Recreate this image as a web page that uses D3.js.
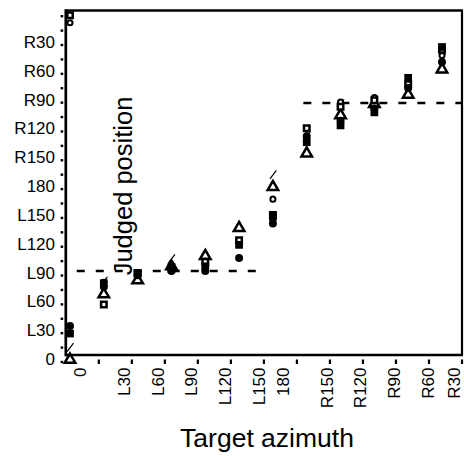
<!DOCTYPE html>
<html>
<head>
<meta charset="utf-8">
<script src="https://cdn.jsdelivr.net/npm/d3@7"></script>
<style>
  html, body { margin: 0; padding: 0; background: #fff; }
  svg { display: block; }
  text { font-family: "Liberation Sans", Arial, Helvetica, sans-serif; fill: #000; }
</style>
</head>
<body>
<svg id="chart" width="464" height="456"></svg>
<script>
// Target azimuths (degrees, counter-clockwise from straight ahead)
const targets = [0, 30, 60, 90, 120, 150, 180, 210, 240, 270, 300, 330];
const targetLabels = ["0", "L30", "L60", "L90", "L120", "L150", "180", "R150", "R120", "R90", "R60", "R30"];

// Judged-position axis
const judgedValues = [0, 30, 60, 90, 120, 150, 180, 210, 240, 270, 300, 330];
const judgedLabels = ["0", "L30", "L60", "L90", "L120", "L150", "180", "R150", "R120", "R90", "R60", "R30"];
const judgedMinorStep = 15;

// Judged position (degrees) for each target, one array per condition
const filledSquare   = [23, 77, 88, 92, 95, 118, 148, 228, 246, 260, 297, 330];
const openSquare     = [364, 54, 87, 94, 100, 123, 150, 243, 266, 273, 290, 327];
const filledCircle   = [31, 73, 86, 90, 90, 104, 141, 234, 251, 264, 286, 314];
const openCircle     = [356, 78, 85, 93, 96, 120, 167, 235, 271, 276, 288, 321];
const openTriangle   = [-5, 65, 80, 95, 106, 136, 180, 216, 257, 269, 279, 306];
const slashMark      = [8, 79, 87, 103, 97, 120, 193, 234, 269, 273, 288, 318];

// Reference segments: [first target, last target, judged position]
const refLines = [[6, 170, 90], [207, 347, 270]];

const W = 464, H = 456;
const svg = d3.select("#chart");

// Plot frame
const frame = { left: 65.8, right: 462, top: 10.5, bottom: 355 };

// Data scales
const x = d3.scaleLinear().domain([0, 330]).range([70, 442]);
const y = d3.scaleLinear().domain([0, 360]).range([355, 19]);

// Scale used for the judged-position tick labels
const yAxisScale = d3.scaleLinear().domain([0, 360]).range([359, 13.2]);

// Frame lines
svg.append("line").attr("x1", frame.left).attr("x2", frame.right + 1)
  .attr("y1", frame.top).attr("y2", frame.top)
  .attr("stroke", "#000").attr("stroke-width", 2.5);
svg.append("line").attr("x1", frame.right).attr("x2", frame.right)
  .attr("y1", frame.top).attr("y2", frame.bottom)
  .attr("stroke", "#000").attr("stroke-width", 2.2);
svg.append("line").attr("x1", frame.left).attr("x2", frame.right + 1)
  .attr("y1", frame.bottom).attr("y2", frame.bottom)
  .attr("stroke", "#000").attr("stroke-width", 2.6);
svg.append("line").attr("x1", frame.left).attr("x2", frame.left)
  .attr("y1", frame.top - 1.2).attr("y2", frame.bottom + 1.3)
  .attr("stroke", "#000").attr("stroke-width", 2.7);

// Bottom tick marks: twelve equal divisions of the frame
const xTickScale = d3.scaleLinear().domain([0, 12]).range([frame.left, frame.right]);
svg.append("g").selectAll("rect")
  .data(d3.range(1, 13))
  .join("rect")
  .attr("x", d => xTickScale(d) - 1.1)
  .attr("y", 359.5)
  .attr("width", 2.2)
  .attr("height", 4.5)
  .attr("fill", "#000");

// Target labels (rotated); numeric labels sit closer to their column
function labelX(t, label) {
  const off = /^\d/.test(label) ? 10 : 20;
  return Math.min(x(t) + off, W - 9.5);
}
svg.append("g").selectAll("text")
  .data(targets)
  .join("text")
  .attr("transform", (d, i) => `translate(${labelX(d, targetLabels[i])},367.5) rotate(-90)`)
  .attr("text-anchor", "end")
  .attr("dy", "0.35em")
  .attr("font-size", 17)
  .text((d, i) => targetLabels[i]);

// Left tick dots
svg.append("g").selectAll("rect")
  .data(d3.range(0, 361, judgedMinorStep))
  .join("rect")
  .attr("x", 60.6)
  .attr("y", d => yAxisScale(d) + 3 - 1.2)
  .attr("width", 2.6)
  .attr("height", 2.4)
  .attr("fill", "#000");

// Judged labels
svg.append("g").selectAll("text")
  .data(judgedValues)
  .join("text")
  .attr("x", 55)
  .attr("y", d => yAxisScale(d))
  .attr("dy", "0.35em")
  .attr("text-anchor", "end")
  .attr("font-size", 17)
  .text((d, i) => judgedLabels[i]);

// Axis titles
svg.append("text")
  .attr("x", 267).attr("y", 447)
  .attr("text-anchor", "middle")
  .attr("font-size", 26.5)
  .text("Target azimuth");

svg.append("text")
  .attr("transform", "translate(131.5,186) rotate(-90)")
  .attr("text-anchor", "middle")
  .attr("font-size", 25.5)
  .text("Judged position");

// Dashed reference segments
svg.append("g").selectAll("line")
  .data(refLines)
  .join("line")
  .attr("x1", d => x(d[0]))
  .attr("x2", d => x(d[1]))
  .attr("y1", d => y(d[2]))
  .attr("y2", d => y(d[2]))
  .attr("stroke", "#000")
  .attr("stroke-width", 2.6)
  .attr("stroke-dasharray", "8,11");

// Marker layers
function drawSeries(values, shape) {
  const g = svg.append("g");
  const pts = targets.map((t, i) => ({ t, v: values[i] }));
  const sel = g.selectAll("path").data(pts).join("path")
    .attr("transform", d => `translate(${x(d.t)},${y(d.v)})`);
  shape(sel);
}

drawSeries(slashMark, s => s
  .attr("d", "M-3,4L3.5,-4.5")
  .attr("fill", "none").attr("stroke", "#000").attr("stroke-width", 1.2));

drawSeries(openTriangle, s => s
  .attr("d", d3.symbol(d3.symbolTriangle, 48)())
  .attr("fill", "none").attr("stroke", "#000").attr("stroke-width", 2.5));

drawSeries(openCircle, s => s
  .attr("d", d3.symbol(d3.symbolCircle, 20)())
  .attr("fill", "#fff").attr("stroke", "#000").attr("stroke-width", 2));

drawSeries(openSquare, s => s
  .attr("d", d3.symbol(d3.symbolSquare, 30)())
  .attr("fill", "#fff").attr("stroke", "#000").attr("stroke-width", 2.5));

drawSeries(filledCircle, s => s
  .attr("d", d3.symbol(d3.symbolCircle, 50)())
  .attr("fill", "#000"));

drawSeries(filledSquare, s => s
  .attr("d", d3.symbol(d3.symbolSquare, 60)())
  .attr("fill", "#000"));
</script>
</body>
</html>
